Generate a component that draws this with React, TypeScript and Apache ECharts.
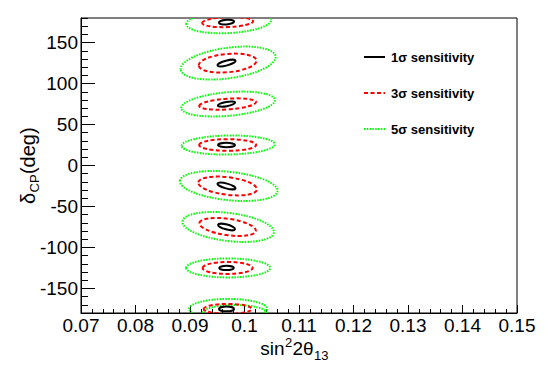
import React, { useEffect, useRef } from "react";
import * as echarts from "echarts";

// Axis ranges and ticks
const sin2Min = 0.07;
const sin2Max = 0.15;
const sin2Step = 0.01;
const deltaMin = -180;
const deltaMax = 180;
const deltaMajorTicks = [-150, -100, -50, 0, 50, 100, 150];

// Contour centres (delta_CP, deg)
const deltaCenters = [175, 125, 75, 25, -25, -75, -125, -175];

// 1 sigma contours: centre sin^2, half width (sin^2), half height (deg), tilt (deg)
const s1X = [0.0967, 0.0967, 0.0967, 0.0967, 0.0967, 0.0967, 0.0967, 0.0967];
const s1HalfW = [0.00138, 0.00171, 0.00161, 0.00156, 0.00171, 0.00161, 0.00134, 0.00138];
const s1HalfH = [2.8, 2.9, 2.6, 2.7, 3.0, 3.0, 2.6, 2.9];
const s1Tilt = [5, 15, 10, 0, -15, -15, 0, 0];

// 3 sigma contours
const s3X = [0.0969, 0.0969, 0.0969, 0.0969, 0.0969, 0.0969, 0.0969, 0.0969];
const s3HalfW = [0.00468, 0.00532, 0.00523, 0.00523, 0.00541, 0.00523, 0.00459, 0.0044];
const s3HalfH = [6.1, 11.2, 6.5, 7.1, 10.7, 10.0, 7.3, 6.1];
const s3Tilt = [2, 5, 4, 0, -7, -8, 0, 0];

// 5 sigma contours (last one: extra lobe at the lower edge)
const s5Delta = [175, 125, 75, 25, -25, -75, -125, -175, -180];
const s5X = [0.0971, 0.0970, 0.0970, 0.0970, 0.0971, 0.0970, 0.0970, 0.0970, 0.0982];
const s5HalfW = [0.0078, 0.0088, 0.00862, 0.00853, 0.009, 0.00844, 0.0077, 0.00716, 0.0059];
const s5HalfH = [13.4, 18.6, 14.4, 11.6, 17.3, 17.1, 11.6, 12.2, 9.8];
const s5Tilt = [3, 8, 5, 1, -6, -7, 0, 0, 0];

const legendLabels = ["1σ sensitivity", "3σ sensitivity", "5σ sensitivity"];

const FONT = "'Liberation Sans', Arial, Helvetica, sans-serif";

function rows(xs: number[], ds: number[], ws: number[], hs: number[], ts: number[]) {
  return xs.map((x, i) => [x, ds[i], ws[i], hs[i], ts[i]]);
}

const measureCtx: CanvasRenderingContext2D | null =
  typeof document !== "undefined" ? document.createElement("canvas").getContext("2d") : null;
function tw(text: string, size: number) {
  if (!measureCtx) return text.length * size * 0.55;
  measureCtx.font = `${size}px ${FONT}`;
  return measureCtx.measureText(text).width;
}

function ellipseSeries(name: string, data: number[][], stroke: string, lineWidth: number, lineDash: number[] | null) {
  return {
    type: "custom",
    name,
    clip: true,
    data,
    renderItem: (params: any, api: any) => {
      const c = api.coord([api.value(0), api.value(1)]);
      const s = api.size([api.value(2), api.value(3)]);
      return {
        type: "ellipse",
        x: c[0],
        y: c[1],
        rotation: (api.value(4) * Math.PI) / 180,
        shape: { cx: 0, cy: 0, rx: s[0], ry: s[1] },
        style: {
          fill: "none",
          stroke,
          lineWidth,
          lineDash: lineDash || undefined,
        },
      };
    },
  };
}

export default function App() {
  const ref = useRef<HTMLDivElement>(null);
  useEffect(() => {
    if (!ref.current) return;
    const chart = echarts.init(ref.current, undefined, { renderer: "svg" });

    const styles = [
      { stroke: "#000000", width: 2, dash: null as number[] | null },
      { stroke: "#ff0000", width: 2, dash: [4, 2.5] },
      { stroke: "#00ff00", width: 2, dash: [1.5, 1.3] },
    ];

    // x title pieces
    const xs = 19, xsub = 13;
    const xParts = [
      { t: "sin", s: xs, dy: 0 },
      { t: "2", s: xsub, dy: -9 },
      { t: "2θ", s: xs, dy: 0 },
      { t: "13", s: xsub, dy: 4 },
    ];
    const xTitle: any[] = [];
    let cx = 0;
    xParts.forEach((p) => {
      xTitle.push({
        type: "text",
        x: cx,
        y: p.dy,
        style: { text: p.t, font: `${p.s}px ${FONT}`, fill: "#000", verticalAlign: "bottom" },
      });
      cx += tw(p.t, p.s) + 0.3;
    });
    const xTitleW = cx;

    const yParts = [
      { t: "δ", s: 20, dy: 0 },
      { t: "CP", s: 13, dy: 3 },
      { t: "(deg)", s: 20, dy: 0 },
    ];
    const yTitle: any[] = [];
    let cy = 0;
    yParts.forEach((p) => {
      yTitle.push({
        type: "text",
        x: cy,
        y: p.dy,
        style: { text: p.t, font: `${p.s}px ${FONT}`, fill: "#000", verticalAlign: "bottom" },
      });
      cy += tw(p.t, p.s) + 0.3;
    });
    const yTitleW = cy;

    const legendGraphics: any[] = [];
    legendLabels.forEach((lab, i) => {
      const y = 57 + i * 36;
      legendGraphics.push({
        type: "line",
        shape: { x1: 364, y1: y, x2: 385, y2: y },
        style: { stroke: styles[i].stroke, lineWidth: styles[i].width, lineDash: styles[i].dash || undefined },
      });
      legendGraphics.push({
        type: "text",
        x: 391,
        y,
        style: { text: lab, font: `bold 13px ${FONT}`, fill: "#000", verticalAlign: "middle" },
      });
    });

    const gridLeft = 81, gridRight = 28, gridTop = 18, gridBottom = 56;
    const gridW = 545 - gridLeft - gridRight;

    chart.setOption({
      animation: false,
      grid: {
        left: gridLeft,
        right: gridRight,
        top: gridTop,
        bottom: gridBottom,
        show: true,
        borderColor: "#000",
        borderWidth: 1,
        backgroundColor: "transparent",
      },
      xAxis: {
        type: "value",
        min: sin2Min,
        max: sin2Max,
        interval: sin2Step,
        axisLine: { show: true, onZero: false, lineStyle: { color: "#000", width: 1 } },
        axisTick: { show: true, inside: true, length: 8, lineStyle: { color: "#000", width: 1 } },
        minorTick: { show: true, splitNumber: 5, length: 4, lineStyle: { color: "#000", width: 1 } },
        splitLine: { show: false },
        axisLabel: {
          color: "#000",
          fontSize: 19,
          fontFamily: FONT,
          margin: 3,
          formatter: (v: number) => String(+v.toFixed(2)),
        },
      },
      yAxis: [
        {
          type: "value",
          min: deltaMin,
          max: deltaMax,
          interval: 10,
          axisLine: { show: true, onZero: false, lineStyle: { color: "#000", width: 1 } },
          axisTick: { show: true, inside: true, length: 7, lineStyle: { color: "#000", width: 1 } },
          splitLine: { show: false },
          axisLabel: {
            color: "#000",
            fontSize: 19,
            fontFamily: FONT,
            margin: 3,
            customValues: deltaMajorTicks,
          },
        },
        {
          type: "value",
          min: deltaMin,
          max: deltaMax,
          position: "right",
          offset: -gridW,
          axisLine: { show: false, onZero: false },
          axisTick: {
            show: true,
            inside: false,
            length: 14,
            customValues: deltaMajorTicks,
            lineStyle: { color: "#000", width: 1 },
          },
          axisLabel: { show: false },
          splitLine: { show: false },
        },
      ],
      series: [
        ellipseSeries("5σ", rows(s5X, s5Delta, s5HalfW, s5HalfH, s5Tilt), styles[2].stroke, styles[2].width, styles[2].dash),
        ellipseSeries("3σ", rows(s3X, deltaCenters, s3HalfW, s3HalfH, s3Tilt), styles[1].stroke, styles[1].width, styles[1].dash),
        ellipseSeries("1σ", rows(s1X, deltaCenters, s1HalfW, s1HalfH, s1Tilt), styles[0].stroke, styles[0].width, styles[0].dash),
      ],
      graphic: [
        { type: "group", x: 294.5 - xTitleW / 2, y: 358, children: xTitle },
        { type: "group", x: 38, y: 165.5 + yTitleW / 2, rotation: Math.PI / 2, children: yTitle },
        ...legendGraphics,
      ],
    });
    return () => chart.dispose();
  }, []);
  return (
    <div
      ref={ref}
      style={{ position: "fixed", left: 0, top: 0, width: 545, height: 369, background: "#fff" }}
    />
  );
}
